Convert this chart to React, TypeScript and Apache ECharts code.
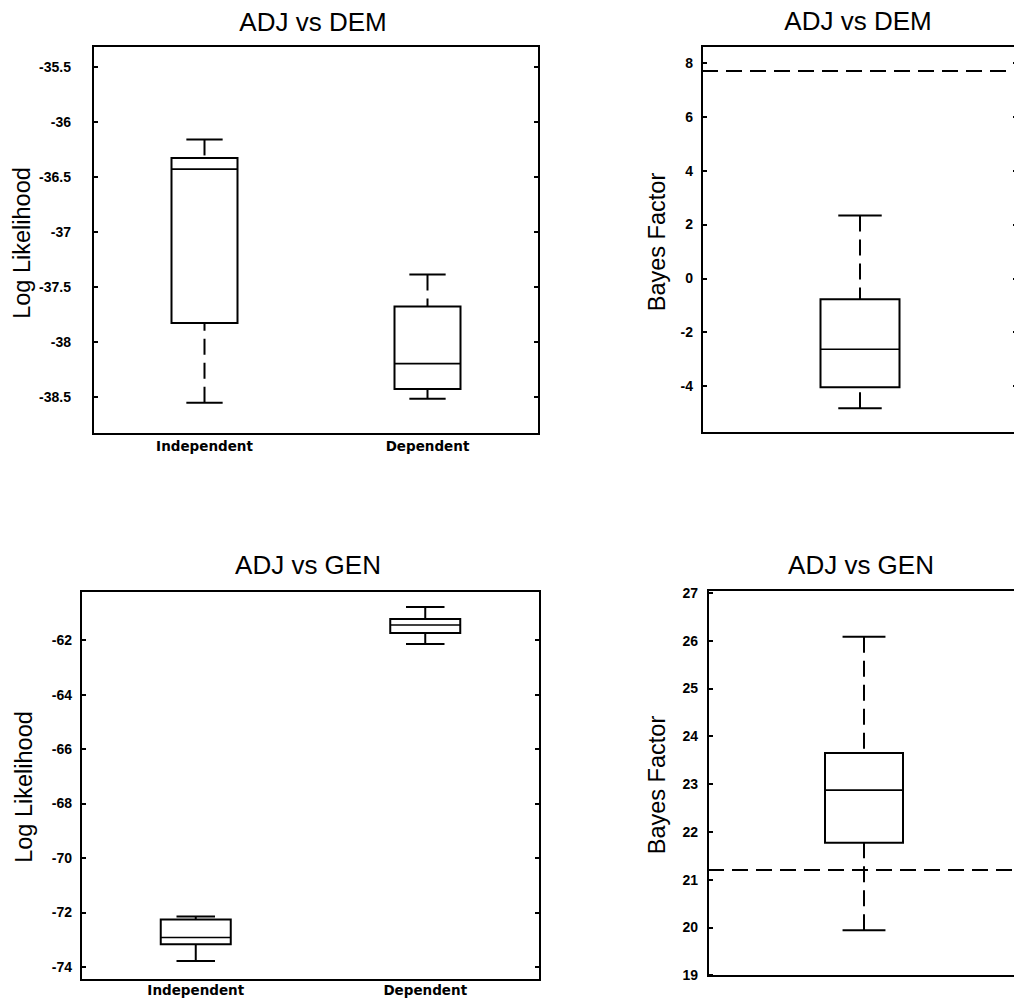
import React, { useEffect, useRef } from "react";
import * as echarts from "echarts";

// ---- data ----
const categories = ["Independent", "Dependent"];
const bayesCategory = ["Bayes Factor"];

// [low whisker, Q1, median, Q3, high whisker]
const demLogLik = [
  [-38.555, -37.83, -36.43, -36.33, -36.16],
  [-38.52, -38.43, -38.2, -37.68, -37.39],
];
const genLogLik = [
  [-73.78, -73.17, -72.92, -72.26, -72.15],
  [-62.15, -61.74, -61.45, -61.23, -60.79],
];
const demBayes = [[-4.83, -4.05, -2.64, -0.78, 2.33]];
const genBayes = [[19.94, 21.77, 22.87, 23.65, 26.08]];

const demThreshold = 7.71;
const genThreshold = 21.2;

const demLogTicks = [-35.5, -36, -36.5, -37, -37.5, -38, -38.5];
const genLogTicks = [-62, -64, -66, -68, -70, -72, -74];
const demBayesTicks = [8, 6, 4, 2, 0, -2, -4];
const genBayesTicks = [27, 26, 25, 24, 23, 22, 21, 20, 19];

const titles = ["ADJ vs DEM", "ADJ vs DEM", "ADJ vs GEN", "ADJ vs GEN"];
const yNames = ["Log Likelihood", "Bayes Factor", "Log Likelihood", "Bayes Factor"];

// ---- layout / style ----
const grids = [
  { left: 93, top: 46, width: 446, height: 388 },
  { left: 702, top: 46, width: 316, height: 387 },
  { left: 81, top: 591, width: 459, height: 389 },
  { left: 708, top: 590, width: 312, height: 386 },
];
const yRanges = [
  [-38.84, -35.31],
  [-5.75, 8.63],
  [-74.48, -60.2],
  [18.98, 27.06],
];
const labelMargins = [22, 9, 9, 10];
const xLabelMargins = [5, 0, 3, 0];
const boxWidths = [66, 79, 70, 78];
const titlePos = [
  [313, 22],
  [858, 21],
  [308, 565],
  [861, 565],
];
const yNamePos = [
  [22, 243],
  [657, 242],
  [24, 787],
  [657, 785],
];

const TICK_FONT = "'Liberation Sans', Arial, sans-serif";
const CAT_FONT = "'DejaVu Sans', sans-serif";

function makeRenderItem(boxW: number) {
  return (params: any, api: any) => {
    const idx = api.value(0);
    const low = api.coord([idx, api.value(1)]);
    const q1 = api.coord([idx, api.value(2)]);
    const med = api.coord([idx, api.value(3)]);
    const q3 = api.coord([idx, api.value(4)]);
    const high = api.coord([idx, api.value(5)]);
    const x = low[0];
    const hw = boxW / 2;
    const cw = (boxW * 0.55) / 2;
    const solid = { stroke: "#000", lineWidth: 2, fill: "none" };
    const dashed = { stroke: "#000", lineWidth: 2, lineDash: [16, 8] };
    return {
      type: "group",
      children: [
        {
          type: "line",
          shape: { x1: x, y1: high[1], x2: x, y2: q3[1] },
          style: dashed,
        },
        {
          type: "line",
          shape: { x1: x, y1: low[1], x2: x, y2: q1[1] },
          style: dashed,
        },
        {
          type: "line",
          shape: { x1: x - cw, y1: high[1], x2: x + cw, y2: high[1] },
          style: solid,
        },
        {
          type: "line",
          shape: { x1: x - cw, y1: low[1], x2: x + cw, y2: low[1] },
          style: solid,
        },
        {
          type: "rect",
          shape: { x: x - hw, y: q3[1], width: boxW, height: q1[1] - q3[1] },
          style: { stroke: "#000", lineWidth: 2, fill: "#fff" },
        },
        {
          type: "line",
          shape: { x1: x - hw, y1: med[1], x2: x + hw, y2: med[1] },
          style: { stroke: "#000", lineWidth: 1.6 },
        },
      ],
    };
  };
}

export default function App() {
  const ref = useRef<HTMLDivElement>(null);

  useEffect(() => {
    if (!ref.current) return;
    const chart = echarts.init(ref.current, undefined, { renderer: "svg" });

    const panelData = [demLogLik, demBayes, genLogLik, genBayes];
    const panelCats = [categories, bayesCategory, categories, bayesCategory];
    const panelTicks = [demLogTicks, demBayesTicks, genLogTicks, genBayesTicks];
    const thresholds: (number | null)[] = [null, demThreshold, null, genThreshold];

    const xAxis: any[] = [];
    const yAxis: any[] = [];
    const series: any[] = [];

    for (let i = 0; i < 4; i++) {
      xAxis.push({
        type: "category",
        gridIndex: i,
        data: panelCats[i],
        boundaryGap: true,
        axisLine: { show: false },
        axisTick: { show: false },
        splitLine: { show: false },
        axisLabel: {
          show: panelCats[i].length > 1,
          margin: xLabelMargins[i],
          color: "#000",
          fontFamily: CAT_FONT,
          fontWeight: "bold",
          fontSize: 13.5,
        },
      });
      const tickCfg = {
        show: true,
        inside: true,
        length: 5,
        customValues: panelTicks[i],
        lineStyle: { color: "#000", width: 2 },
      };
      yAxis.push({
        type: "value",
        gridIndex: i,
        position: "left",
        min: yRanges[i][0],
        max: yRanges[i][1],
        axisLine: { show: false },
        splitLine: { show: false },
        axisTick: tickCfg,
        axisLabel: {
          customValues: panelTicks[i],
          margin: labelMargins[i],
          color: "#000",
          fontFamily: TICK_FONT,
          fontWeight: "bold",
          fontSize: 14,
        },
      });
      yAxis.push({
        type: "value",
        gridIndex: i,
        position: "right",
        min: yRanges[i][0],
        max: yRanges[i][1],
        axisLine: { show: false },
        splitLine: { show: false },
        axisTick: tickCfg,
        axisLabel: { show: false },
      });
      const s: any = {
        type: "custom",
        xAxisIndex: i,
        yAxisIndex: 2 * i,
        data: panelData[i].map((d, k) => [k, ...d]),
        renderItem: makeRenderItem(boxWidths[i]),
        silent: true,
      };
      const th = thresholds[i];
      if (th !== null) {
        s.markLine = {
          silent: true,
          symbol: ["none", "none"],
          label: { show: false },
          lineStyle: { color: "#000", type: [16, 8], width: 2 },
          data: [{ yAxis: th }],
        };
      }
      series.push(s);
    }

    const graphic: any[] = [];
    for (let i = 0; i < 4; i++) {
      graphic.push({
        type: "text",
        x: titlePos[i][0],
        y: titlePos[i][1],
        style: {
          text: titles[i],
          fill: "#000",
          font: `26px ${TICK_FONT}`,
          textAlign: "center",
          textVerticalAlign: "middle",
        },
      });
      graphic.push({
        type: "text",
        x: yNamePos[i][0],
        y: yNamePos[i][1],
        rotation: Math.PI / 2,
        style: {
          text: yNames[i],
          fill: "#000",
          font: `23.5px ${TICK_FONT}`,
          textAlign: "center",
          textVerticalAlign: "middle",
        },
      });
    }

    chart.setOption({
      animation: false,
      backgroundColor: "#fff",
      grid: grids.map((g) => ({
        ...g,
        show: true,
        borderColor: "#000",
        borderWidth: 2,
        backgroundColor: "transparent",
        containLabel: false,
        outerBoundsMode: "none",
      })),
      xAxis,
      yAxis,
      series,
      graphic,
    });

    return () => chart.dispose();
  }, []);

  return (
    <div
      ref={ref}
      style={{ position: "absolute", left: 0, top: 0, width: 1014, height: 1003 }}
    />
  );
}
